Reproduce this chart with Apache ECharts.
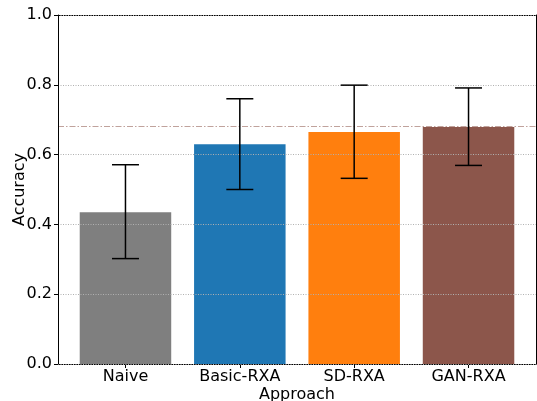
<!DOCTYPE html>
<html><head><meta charset="utf-8">
<script src="https://cdn.jsdelivr.net/npm/echarts@6/dist/echarts.min.js"></script>
<style>html,body{margin:0;padding:0;background:#fff}#c{width:537px;height:401px}</style>
</head><body><div id="c"></div>
<script>
const categories = ['Naive', 'Basic-RXA', 'SD-RXA', 'GAN-RXA'];
const accuracy = [0.435, 0.630, 0.665, 0.679];
const errLow = [0.302, 0.500, 0.532, 0.569];
const errHigh = [0.571, 0.760, 0.799, 0.791];
const referenceLine = 0.679;
const yTicks = [0, 0.2, 0.4, 0.6, 0.8, 1.0];

const barColors = ['#7f7f7f', '#1f77b4', '#ff7f0e', '#8c564b'];
const FONT = 'DejaVu Sans';

const chart = echarts.init(document.getElementById('c'), null, {renderer: 'canvas'});
const catIdx = categories.map((_, i) => i);

chart.setOption({
  animation: false,
  backgroundColor: '#fff',
  grid: {left: 58, right: 1, top: 15, bottom: 37, containLabel: false, outerBoundsMode: 'none'},
  xAxis: [{
    type: 'value', min: -0.59, max: 3.59,
    name: 'Approach', nameLocation: 'middle', nameGap: 23, nameMoveOverlap: false,
    nameTextStyle: {fontFamily: FONT, fontSize: 16, color: '#000'},
    axisLine: {show: true, onZero: false, lineStyle: {color: '#000', width: 1}},
    axisTick: {show: true, customValues: catIdx, length: 4, lineStyle: {color: '#000'}},
    axisLabel: {show: true, customValues: catIdx, margin: 5,
      formatter: v => categories[Math.round(v)] || '',
      fontFamily: FONT, fontSize: 16, color: '#000'},
    splitLine: {show: false}
  }, {
    type: 'value', position: 'top', min: -0.59, max: 3.59,
    axisLine: {show: true, onZero: false, lineStyle: {color: '#000', width: 1}},
    axisTick: {show: false}, axisLabel: {show: false}, splitLine: {show: false}
  }],
  yAxis: [{
    type: 'value', min: 0, max: 1, interval: 0.2, z: 5,
    name: 'Accuracy', nameLocation: 'middle', nameGap: 30, nameMoveOverlap: false,
    nameTextStyle: {fontFamily: FONT, fontSize: 16, color: '#000'},
    axisLine: {show: true, onZero: false, lineStyle: {color: '#000', width: 1}},
    axisTick: {show: true, length: 4, lineStyle: {color: '#000'}},
    axisLabel: {margin: 6, fontFamily: FONT, fontSize: 16, color: '#000',
      formatter: v => yTicks.some(t => Math.abs(t - v) < 1e-9) ? v.toFixed(1) : ''},
    splitLine: {show: true, lineStyle: {color: '#b0b0b0', width: 1, type: [1, 1.5]}}
  }, {
    type: 'value', position: 'right', min: 0, max: 1,
    axisLine: {show: true, onZero: false, lineStyle: {color: '#000', width: 1}},
    axisTick: {show: false}, axisLabel: {show: false}, splitLine: {show: false}
  }],
  series: [{
    type: 'bar',
    barWidth: 91.5,
    z: 2,
    data: accuracy.map((v, i) => ({value: [i, v], itemStyle: {color: barColors[i]}})),
    markLine: {
      silent: true, symbol: 'none', label: {show: false},
      lineStyle: {color: 'rgba(140,86,75,0.55)', width: 1.2, type: [6, 2, 1.5, 2]},
      data: [{yAxis: referenceLine}]
    }
  }, {
    type: 'custom',
    z: 10,
    data: catIdx.map(i => [i, errLow[i], errHigh[i]]),
    renderItem: function (params, api) {
      const x = api.value(0);
      const lo = api.coord([x, api.value(1)]);
      const hi = api.coord([x, api.value(2)]);
      const hw = 13.5;
      const st = {stroke: '#000', lineWidth: 1.5};
      return {type: 'group', children: [
        {type: 'line', shape: {x1: lo[0], y1: lo[1], x2: hi[0], y2: hi[1]}, style: st},
        {type: 'line', shape: {x1: lo[0] - hw, y1: lo[1], x2: lo[0] + hw, y2: lo[1]}, style: st},
        {type: 'line', shape: {x1: hi[0] - hw, y1: hi[1], x2: hi[0] + hw, y2: hi[1]}, style: st}
      ]};
    }
  }]
});
</script>
</body></html>
